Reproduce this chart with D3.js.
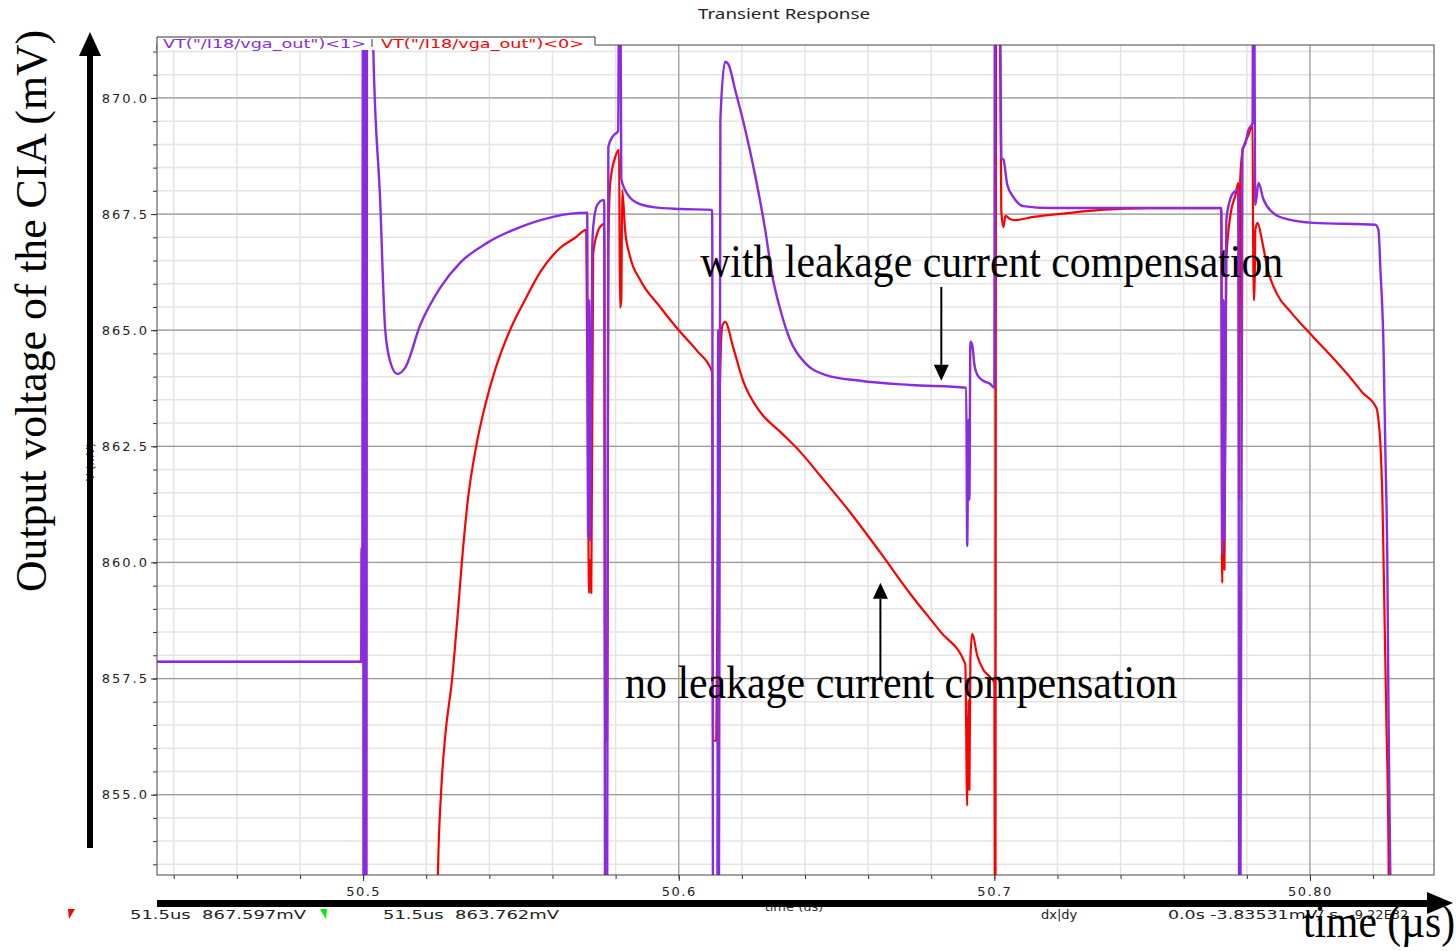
<!DOCTYPE html>
<html>
<head>
<meta charset="utf-8">
<script src="https://cdn.jsdelivr.net/npm/d3@7"></script>
<style>
  body { margin: 0; background: #fff; }
  svg { display: block; }
</style>
</head>
<body>
<svg id="chart" width="1456" height="951"></svg>
<script>
// ---- data ----
const chartTitle = "Transient Response";
const seriesNames = ['VT("/I18/vga_out")<1>', 'VT("/I18/vga_out")<0>'];
const seriesColors = ["#8a2be2", "#ff0000"];

const timeDomain = [50.4347, 50.8393];   // µs
const voltDomain = [853.27, 871.14];     // mV
const timeMajor = [50.5, 50.6, 50.7, 50.8];
const timeLabels = ["50.5", "50.6", "50.7", "50.80"];
const voltMajor = [855, 857.5, 860, 862.5, 865, 867.5, 870];
const voltLabels = ["855.0", "857.5", "860.0", "862.5", "865.0", "867.5", "870.0"];

// VT<1> : with leakage current compensation  [time µs, mV]
const withComp = [
  [50.4347, 857.86], [50.4994, 857.86], [50.4995, 860.31], [50.4997, 857.86],
  [50.5000, 876], [50.5002, 850], [50.5004, 876], [50.5006, 850], [50.5008, 876],
  [50.5010, 850], [50.5013, 876], [50.5022, 876],
  [50.5032, 871.14], [50.5054, 867.80], [50.5070, 865.01], [50.5086, 864.32],
  [50.5108, 864.06], [50.5133, 864.19], [50.5181, 865.11], [50.5244, 865.91],
  [50.5307, 866.45], [50.5393, 866.88], [50.5498, 867.22], [50.5602, 867.44],
  [50.5710, 867.53], [50.5713, 860.55], [50.5716, 865.65], [50.5719, 860.48],
  [50.5726, 866.73], [50.5729, 867.22], [50.5742, 867.70], [50.5761, 867.80],
  [50.5764, 867.80], [50.5767, 851], [50.5773, 851], [50.5777, 868.95],
  [50.5792, 869.18], [50.5808, 869.29], [50.5813, 876], [50.5818, 868.26],
  [50.5830, 868.02], [50.5846, 867.85], [50.5868, 867.74], [50.5919, 867.65],
  [50.6005, 867.61], [50.6106, 867.59], [50.6109, 851], [50.6122, 851],
  [50.6125, 865.0], [50.6127, 851],
  [50.6132, 869.53], [50.6147, 870.78], [50.6157, 870.73], [50.6179, 870.17],
  [50.6211, 869.31], [50.6242, 868.34], [50.6274, 867.16], [50.6296, 866.19],
  [50.6322, 865.44], [50.6353, 864.79], [50.6401, 864.29], [50.6464, 864.04],
  [50.6575, 863.91], [50.6734, 863.82], [50.6911, 863.76], [50.6914, 860.35],
  [50.6918, 863.07], [50.6921, 861.35], [50.6924, 864.75], [50.6930, 864.68],
  [50.6937, 864.25], [50.6946, 864.04], [50.6965, 863.91], [50.6987, 863.84],
  [50.7000, 863.76], [50.7003, 876], [50.7013, 876], [50.7022, 868.71],
  [50.7029, 868.67], [50.7041, 868.13], [50.7060, 867.87], [50.7092, 867.67],
  [50.7177, 867.63], [50.7710, 867.63], [50.7719, 867.63], [50.7722, 860.18],
  [50.7726, 865.65], [50.7729, 860.48], [50.7735, 867.37], [50.7748, 867.83],
  [50.7764, 868.00], [50.7773, 868.02], [50.7776, 851], [50.7779, 851],
  [50.7786, 868.90], [50.7795, 869.01], [50.7805, 869.31], [50.7818, 869.46],
  [50.7821, 876], [50.7827, 867.70], [50.7837, 868.17], [50.7852, 867.83],
  [50.7884, 867.52], [50.7928, 867.39], [50.8011, 867.31], [50.8207, 867.27],
  [50.8217, 867.16], [50.8223, 866.34], [50.8233, 864.64], [50.8239, 862.36],
  [50.8245, 860.08], [50.8249, 856.65], [50.8255, 853.0], [50.8260, 850]
];

// VT<0> : no leakage current compensation  [time µs, mV]
const noComp = [
  [50.4347, 857.86], [50.5003, 857.86], [50.5005, 850], [50.5230, 850],
  [50.5237, 853.27], [50.5247, 855.04], [50.5259, 856.18], [50.5282, 857.49],
  [50.5301, 858.98], [50.5313, 860.01], [50.5332, 861.35], [50.5358, 862.49],
  [50.5387, 863.39], [50.5418, 864.14], [50.5466, 865.01], [50.5513, 865.65],
  [50.5561, 866.25], [50.5624, 866.77], [50.5672, 866.99], [50.5707, 867.16],
  [50.5713, 861.35], [50.5716, 859.34], [50.5719, 860.05], [50.5723, 859.34],
  [50.5729, 866.64], [50.5742, 867.09], [50.5757, 867.27], [50.5764, 867.29],
  [50.5767, 856.16], [50.5773, 856.16], [50.5777, 866.73], [50.5783, 868.17],
  [50.5799, 868.73], [50.5811, 868.88], [50.5814, 865.48], [50.5818, 865.65],
  [50.5821, 868.02], [50.5830, 867.16], [50.5846, 866.58], [50.5878, 866.08],
  [50.5941, 865.50], [50.6005, 864.96], [50.6059, 864.55], [50.6106, 864.10],
  [50.6109, 856.16], [50.6119, 856.16], [50.6125, 861.35], [50.6138, 865.09],
  [50.6147, 865.18], [50.6173, 864.62], [50.6204, 863.91], [50.6258, 863.24],
  [50.6322, 862.81], [50.6385, 862.38], [50.6449, 861.86], [50.6544, 861.07],
  [50.6639, 860.21], [50.6734, 859.32], [50.6829, 858.51], [50.6908, 857.81],
  [50.6914, 854.76], [50.6918, 857.04], [50.6921, 855.10], [50.6924, 857.90],
  [50.6930, 858.46], [50.6946, 857.99], [50.6965, 857.69], [50.6987, 857.53],
  [50.7000, 857.41], [50.7003, 850], [50.7006, 876], [50.7013, 876],
  [50.7022, 867.57], [50.7029, 867.22], [50.7035, 867.46], [50.7051, 867.39],
  [50.7067, 867.37], [50.7124, 867.44], [50.7231, 867.52], [50.7336, 867.59],
  [50.7494, 867.63], [50.7710, 867.63], [50.7719, 867.63], [50.7722, 859.56],
  [50.7726, 863.50], [50.7729, 859.84], [50.7735, 866.51], [50.7748, 867.48],
  [50.7764, 867.91], [50.7773, 868.17], [50.7776, 861.35], [50.7779, 868.23],
  [50.7786, 868.84], [50.7805, 869.20], [50.7818, 869.42], [50.7821, 865.65],
  [50.7824, 865.65], [50.7827, 867.16], [50.7834, 867.31], [50.7849, 866.90],
  [50.7865, 866.34], [50.7897, 865.76], [50.7938, 865.40], [50.8011, 864.85],
  [50.8065, 864.46], [50.8119, 864.05], [50.8166, 863.66], [50.8211, 863.32],
  [50.8217, 863.07], [50.8223, 862.57], [50.8230, 861.22], [50.8236, 858.93],
  [50.8242, 856.65], [50.8249, 853.70], [50.8252, 850]
];

// annotations, in data coordinates
const annoWith = { text: "with leakage current compensation", t: 50.6068, v: 866.15, arrowT: 50.6832, fromV: 865.93, toV: 863.91 };
const annoNo = { text: "no leakage current compensation", t: 50.5830, v: 857.08, arrowT: 50.6639, fromV: 857.47, toV: 859.56 };

const cursorText = ["51.5us  867.597mV", "51.5us  863.762mV"];
const deltaText = ["dx|dy", "0.0s -3.83531mV/ s", "-9.22E32"];

// ---- layout ----
const plot = { left: 157, right: 1434, top: 45, bottom: 875 };
const tickFont = "'DejaVu Sans', Verdana, sans-serif";
const serif = "'Liberation Serif', 'Times New Roman', serif";

const svg = d3.select("#chart");

const x = d3.scaleLinear().domain(timeDomain).range([plot.left, plot.right]);
const y = d3.scaleLinear().domain(voltDomain).range([plot.bottom, plot.top]);

svg.append("defs").append("clipPath").attr("id", "plotClip")
  .append("rect")
  .attr("x", plot.left).attr("y", plot.top)
  .attr("width", plot.right - plot.left).attr("height", plot.bottom - plot.top);

// title
svg.append("text")
  .attr("x", 698).attr("y", 19)
  .attr("textLength", 172).attr("lengthAdjust", "spacingAndGlyphs")
  .style("font-family", "'Noto Sans', sans-serif")
  .style("font-size", "14px")
  .style("fill", "#222")
  .text(chartTitle);

// grid
const grid = svg.append("g");
const timeMinor = x.ticks(20);
const voltMinor = y.ticks(36);

grid.selectAll(".vminor").data(timeMinor).enter().append("line")
  .attr("x1", d => x(d)).attr("x2", d => x(d))
  .attr("y1", plot.top).attr("y2", plot.bottom)
  .attr("stroke", "#e4e4e4").attr("stroke-width", 1.5);
grid.selectAll(".hminor").data(voltMinor).enter().append("line")
  .attr("y1", d => y(d)).attr("y2", d => y(d))
  .attr("x1", plot.left).attr("x2", plot.right)
  .attr("stroke", "#e4e4e4").attr("stroke-width", 1.5);
grid.selectAll(".vmajor").data(timeMajor).enter().append("line")
  .attr("x1", d => x(d)).attr("x2", d => x(d))
  .attr("y1", plot.top).attr("y2", plot.bottom)
  .attr("stroke", "#9a9a9a").attr("stroke-width", 1.2);
grid.selectAll(".hmajor").data(voltMajor).enter().append("line")
  .attr("y1", d => y(d)).attr("y2", d => y(d))
  .attr("x1", plot.left).attr("x2", plot.right)
  .attr("stroke", "#9a9a9a").attr("stroke-width", 1.2);

// minor tick marks
svg.append("g")
  .attr("transform", `translate(0,${plot.bottom})`)
  .call(d3.axisBottom(x).tickValues(timeMinor).tickSize(4).tickFormat(""))
  .call(g => g.select(".domain").remove())
  .selectAll("line").attr("stroke", "#333");
svg.append("g")
  .attr("transform", `translate(${plot.left},0)`)
  .call(d3.axisLeft(y).tickValues(voltMinor).tickSize(4).tickFormat(""))
  .call(g => g.select(".domain").remove())
  .selectAll("line").attr("stroke", "#333");

// major axes
const xAxis = svg.append("g")
  .attr("transform", `translate(0,${plot.bottom})`)
  .call(d3.axisBottom(x).tickValues(timeMajor).tickSize(6).tickPadding(6)
    .tickFormat((d, i) => timeLabels[i]));
xAxis.select(".domain").remove();
xAxis.selectAll("line").attr("stroke", "#333");
xAxis.selectAll("text")
  .style("font-family", tickFont).style("font-size", "13px")
  .style("letter-spacing", "1.5px").style("fill", "#222");

const yAxis = svg.append("g")
  .attr("transform", `translate(${plot.left},0)`)
  .call(d3.axisLeft(y).tickValues(voltMajor).tickSize(6).tickPadding(2)
    .tickFormat((d, i) => voltLabels[i]));
yAxis.select(".domain").remove();
yAxis.selectAll("line").attr("stroke", "#333");
yAxis.selectAll("text")
  .style("font-family", tickFont).style("font-size", "13px")
  .style("letter-spacing", "2px").style("fill", "#222");

// curves
const line = d3.line().curve(d3.curveMonotoneX).x(d => x(d[0])).y(d => y(d[1]));
const curves = svg.append("g").attr("clip-path", "url(#plotClip)");
curves.append("path").datum(noComp)
  .attr("d", line).attr("fill", "none")
  .attr("stroke", seriesColors[1]).attr("stroke-width", 2.2)
  .attr("stroke-linejoin", "round");
curves.append("path").datum(withComp)
  .attr("d", line).attr("fill", "none")
  .attr("stroke", seriesColors[0]).attr("stroke-width", 2.4)
  .attr("stroke-linejoin", "round");

// frame
svg.append("rect")
  .attr("x", plot.left).attr("y", plot.top)
  .attr("width", plot.right - plot.left).attr("height", plot.bottom - plot.top)
  .attr("fill", "none").attr("stroke", "#444").attr("stroke-width", 1);

// legend tab
svg.append("rect")
  .attr("x", plot.left).attr("y", 37).attr("width", 438).attr("height", 13)
  .attr("fill", "#fff");
svg.append("path")
  .attr("d", `M${plot.left},50V37H595V${plot.top}`)
  .attr("fill", "none").attr("stroke", "#333").attr("stroke-width", 1);
svg.append("text")
  .attr("x", 163).attr("y", 48)
  .attr("textLength", 203).attr("lengthAdjust", "spacingAndGlyphs")
  .style("font-family", tickFont).style("font-size", "13px")
  .style("fill", seriesColors[0])
  .text(seriesNames[0]);
svg.append("line")
  .attr("x1", 372).attr("x2", 372).attr("y1", 39).attr("y2", 47)
  .attr("stroke", "#333");
svg.append("text")
  .attr("x", 381).attr("y", 48)
  .attr("textLength", 203).attr("lengthAdjust", "spacingAndGlyphs")
  .style("font-family", tickFont).style("font-size", "13px")
  .style("fill", seriesColors[1])
  .text(seriesNames[1]);

// small native axis titles (partly hidden by the big arrows)
svg.append("text")
  .attr("transform", "translate(94,462) rotate(-90)")
  .attr("text-anchor", "middle")
  .style("font-family", tickFont).style("font-size", "11px").style("fill", "#333")
  .text("V (mV)");
svg.append("text")
  .attr("x", 794).attr("y", 911)
  .attr("text-anchor", "middle")
  .style("font-family", tickFont).style("font-size", "13px").style("fill", "#333")
  .text("time (us)");

// status bar
const status = svg.append("g")
  .style("font-family", tickFont).style("font-size", "13px").style("fill", "#222");
status.append("path").attr("d", "M68,909H75L69,919Z").attr("fill", "#ff0000");
status.append("text").attr("x", 130).attr("y", 919)
  .attr("textLength", 176).attr("lengthAdjust", "spacingAndGlyphs")
  .style("white-space", "pre").text(cursorText[0]);
status.append("path").attr("d", "M320,909H327L326,919Z").attr("fill", "#00ee00");
status.append("text").attr("x", 383).attr("y", 919)
  .attr("textLength", 176).attr("lengthAdjust", "spacingAndGlyphs")
  .style("white-space", "pre").text(cursorText[1]);
status.append("text").attr("x", 1041).attr("y", 919).text(deltaText[0]);
status.append("text").attr("x", 1168).attr("y", 919)
  .attr("textLength", 170).attr("lengthAdjust", "spacingAndGlyphs")
  .text(deltaText[1]);
status.append("text").attr("x", 1350).attr("y", 919).text(deltaText[2]);

// ---- overlay annotations (black, serif) ----
const over = svg.append("g").attr("fill", "#000");

// vertical axis arrow
over.append("rect").attr("x", 87).attr("y", 52).attr("width", 6).attr("height", 796);
over.append("path").attr("d", "M90,32L101,56H79Z");
// horizontal axis arrow
over.append("rect").attr("x", 157).attr("y", 900).attr("width", 1272).attr("height", 7);
over.append("path").attr("d", "M1453,903L1427,892V914Z");

over.append("text")
  .attr("transform", "translate(46,311) rotate(-90)")
  .attr("text-anchor", "middle")
  .attr("textLength", 562).attr("lengthAdjust", "spacingAndGlyphs")
  .style("font-family", serif).style("font-size", "44px")
  .text("Output voltage of the CIA (mV)");

over.append("text")
  .attr("x", 1303).attr("y", 937)
  .attr("textLength", 152).attr("lengthAdjust", "spacingAndGlyphs")
  .style("font-family", serif).style("font-size", "46px")
  .text("time (µs)");

// curve annotations
function annotate(a, len, dir) {
  over.append("text")
    .attr("x", x(a.t)).attr("y", y(a.v))
    .attr("textLength", len).attr("lengthAdjust", "spacingAndGlyphs")
    .style("font-family", serif).style("font-size", "46px")
    .text(a.text);
  const ax = x(a.arrowT), y0 = y(a.fromV), y1 = y(a.toV);
  const head = 16 * dir;
  over.append("line")
    .attr("x1", ax).attr("x2", ax).attr("y1", y0).attr("y2", y1 - head)
    .attr("stroke", "#000").attr("stroke-width", 2);
  over.append("path")
    .attr("d", `M${ax},${y1}L${ax - 7.5},${y1 - head}H${ax + 7.5}Z`);
}
annotate(annoWith, 583, 1);
annotate(annoNo, 552, -1);
</script>
</body>
</html>
